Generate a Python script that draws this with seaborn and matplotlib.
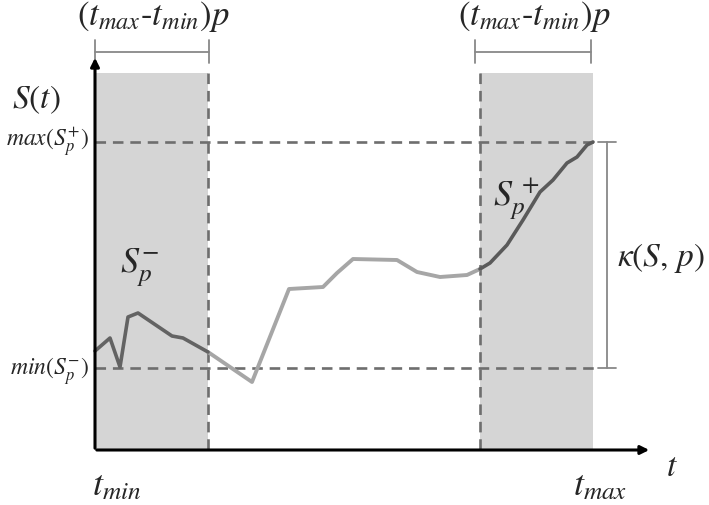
import matplotlib
matplotlib.use("Agg")
import matplotlib.pyplot as plt
import pandas as pd
import seaborn as sns

# curve S(t) (pixel-like units, y grows downward)
t_vals = [95, 110, 120, 128, 138, 172, 183, 208, 252, 289, 323, 337, 353,
          397, 417, 440, 467, 480, 490, 507, 523, 540, 553, 567, 577, 587, 593]
s_vals = [351, 338, 367, 317, 313, 336, 338, 352, 382, 289, 287, 273, 259,
          260, 272, 277, 275, 269, 263, 245, 220, 192, 180, 163, 157, 145, 142]

t_min, t_max = 95, 593
t_left, t_right = 208, 480
s_max, s_min = 142, 368
axis_y, axis_top, axis_end = 450, 55, 652
band_top = 73

df = pd.DataFrame({"t": t_vals, "S": s_vals})
left = df[df.t <= t_left]
mid = df[(df.t >= t_left) & (df.t <= t_right)]
right = df[df.t >= t_right]

sns.set_style("white")
plt.rcParams["mathtext.fontset"] = "stix"
plt.rcParams["font.family"] = ["STIXGeneral", "DejaVu Serif"]

fig = plt.figure(figsize=(7.09, 5.05), dpi=100)
ax = fig.add_axes([0, 0, 1, 1])

# shaded bands
ax.fill_between([t_min, t_left], band_top, axis_y, color="#d5d5d5", lw=0, zorder=0)
ax.fill_between([t_right, t_max], band_top, axis_y, color="#d5d5d5", lw=0, zorder=0)

# dashed guides
dash = dict(color="#6e6e6e", lw=1.9, ls=(0, (4, 2.6)), zorder=1)
ax.plot([t_min, t_max + 5], [s_max, s_max], **dash)
ax.plot([t_min, t_max + 5], [s_min, s_min], **dash)
ax.plot([t_left, t_left], [band_top, axis_y], **dash)
ax.plot([t_right, t_right], [band_top, axis_y], **dash)

# curve
sns.lineplot(data=mid, x="t", y="S", color="#a6a6a6", lw=2.8, sort=False,
             estimator=None, ax=ax, zorder=3)
sns.lineplot(data=left, x="t", y="S", color="#636363", lw=2.6, sort=False,
             estimator=None, ax=ax, zorder=3)
sns.lineplot(data=right, x="t", y="S", color="#5a5a5a", lw=2.6, sort=False,
             estimator=None, ax=ax, zorder=3)
ax.set_xlim(0, 709)
ax.set_ylim(505, 0)
ax.axis("off")

# axes arrows
arrow = dict(arrowstyle="-|>,head_width=0.25,head_length=0.5", color="black", lw=2.2)
ax.annotate("", xy=(t_min, axis_top), xytext=(t_min, axis_y + 1), arrowprops=arrow)
ax.annotate("", xy=(axis_end, axis_y), xytext=(t_min - 1, axis_y), arrowprops=arrow)

# brackets above bands
br = dict(color="#888888", lw=1.3)
for a, b in [(t_min, t_left + 1), (t_right - 5, t_max - 2)]:
    ax.plot([a, b], [52, 52], **br)
    ax.plot([a, a], [40, 63], **br)
    ax.plot([b, b], [40, 63], **br)
ax.text((t_min + t_left) / 2 + 2, 17, r"$(t_{max}$-$t_{min})p$", fontsize=25,
        ha="center", va="center")
ax.text((t_right + t_max) / 2 - 2, 17, r"$(t_{max}$-$t_{min})p$", fontsize=25,
        ha="center", va="center")

# kappa bracket
kx = 607
ax.plot([kx, kx], [s_max, s_min], **br)
ax.plot([kx - 9, kx + 9], [s_max, s_max], **br)
ax.plot([kx - 9, kx + 9], [s_min, s_min], **br)
ax.text(661, 258, r"$\kappa(S,\, p)$", fontsize=24, ha="center", va="center")

# labels
ax.text(36, 100, r"$S(t)$", fontsize=24, ha="center", va="center")
ax.text(89, 142, r"$max(S_p^{+})$", fontsize=17, ha="right", va="center")
ax.text(89, 372, r"$min(S_p^{-})$", fontsize=17, ha="right", va="center")
ax.text(140, 268, r"$S_p^{-}$", fontsize=26, ha="center", va="center")
ax.text(516, 200, r"$S_p^{\,+}$", fontsize=26, ha="center", va="center")
ax.text(117, 487, r"$t_{min}$", fontsize=26, ha="center", va="center")
ax.text(600, 487, r"$t_{max}$", fontsize=26, ha="center", va="center")
ax.text(672, 468, r"$t$", fontsize=24, ha="center", va="center")

fig.savefig("out.png", dpi=100)
